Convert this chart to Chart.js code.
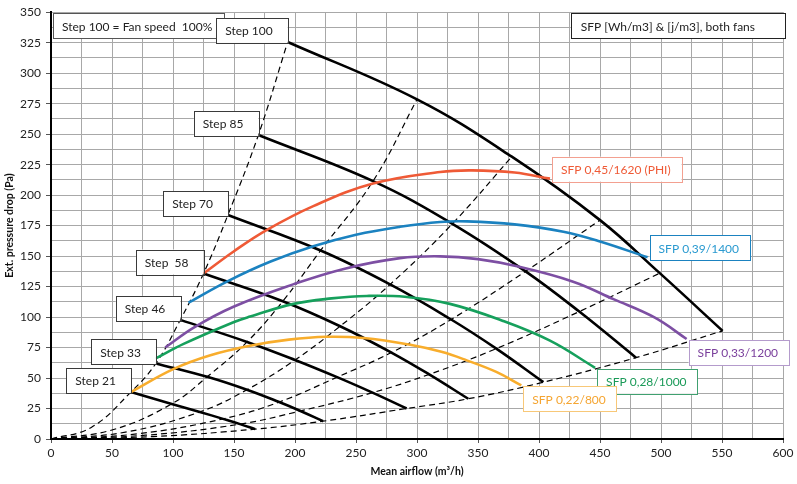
<!DOCTYPE html>
<html>
<head>
<meta charset="utf-8">
<script src="https://cdn.jsdelivr.net/npm/chart.js@4.4.1/dist/chart.umd.min.js"></script>
<style>
  html, body { margin: 0; padding: 0; background: #fff; }
  #wrap { width: 797px; height: 484px; }
</style>
</head>
<body>
<div id="wrap"><canvas id="fanChart"></canvas></div>
<script>
// fan curves per speed step, [airflow m3/h, pressure Pa]
// point i of every step lies on system curve i (the dashed lines)
const step21  = [[65.5, 38.5], [99, 28.8], [122, 22.2], [141, 16.5], [155, 12.2], [167.4, 8.1]];
const step33  = [[86, 62], [128, 51], [160.6, 40.4], [187, 30.3], [204.5, 23], [223, 14.6]];
const step46  = [[106, 97.7], [160.7, 79.6], [200, 64.8], [234.5, 50.7], [263.5, 38], [291.5, 25]];
const step58  = [[125, 135.7], [190, 113], [237, 92.5], [279, 70.9], [310, 53], [342, 33]];
const step70  = [[145, 183.7], [221, 154.6], [278, 126.8], [328, 98], [365, 74.1], [403.6, 46.6]];
const step85  = [[170, 249.3], [264, 211.5], [329, 176.5], [389, 137.5], [433, 104.5], [479.5, 66.7]];
const step100 = [[194, 325.6], [300, 278.5], [377.7, 231.5], [450, 179.5], [499, 136], [550.5, 88.7]];
const stepCurves = [step21, step33, step46, step58, step70, step85, step100];
const stepNames = ['Step 21', 'Step 33', 'Step 46', 'Step  58', 'Step 70', 'Step 85', 'Step 100'];

// first part of each system curve, from the origin up to the Step 21 curve
const systemHeads = [
  [[0, 0], [33, 9.5]],
  [[0, 0], [50, 7.4]],
  [[0, 0], [61, 5.6]],
  [[0, 0], [70.5, 4.2]],
  [[0, 0], [77.5, 3.1]],
  [[0, 0], [84, 2]]
];

// SFP iso-lines
const sfp045 = [[125, 135.7], [150, 154], [177, 171.5], [215, 191], [264, 209.5], [319, 219], [345, 220.3], [380, 218.5], [409, 213.5]];
const sfp039 = [[112.7, 111.8], [145, 129.5], [180, 145.5], [215, 158], [250, 167.5], [286, 174], [319, 178], [341, 178.5], [380, 176], [420, 170], [450, 162], [489, 149]];
const sfp033 = [[93.6, 75], [117, 91.4], [149.6, 108.5], [199, 127], [240, 139.5], [286, 148.3], [319, 149.8], [350, 147.5], [382, 141.6], [428, 129], [461, 114.7], [495, 99.5], [521, 82]];
const sfp028 = [[85.5, 65.9], [108.7, 78], [149.6, 95.8], [163.2, 100.4], [198.8, 110.8], [230, 115.3], [258.9, 117.3], [290, 116.6], [327, 110.8], [370, 97], [409, 80.6], [446, 58.4]];
const sfp022 = [[65.5, 38.5], [100.2, 57.3], [130, 68.5], [163.2, 76.5], [195, 81.5], [226, 83.8], [256, 82.8], [294.4, 77.3], [320, 71.5], [340.8, 64.5], [365, 55], [385.5, 44]];
const sfpCurves = [sfp045, sfp039, sfp033, sfp028, sfp022];
const sfpNames = ['SFP 0,45/1620 (PHI)', 'SFP 0,39/1400', 'SFP 0,33/1200', 'SFP 0,28/1000', 'SFP 0,22/800'];

const xTickLabels = [0, 50, 100, 150, 200, 250, 300, 350, 400, 450, 500, 550, 600];
const yTickLabels = [0, 25, 50, 75, 100, 125, 150, 175, 200, 225, 250, 275, 300, 325, 350];

// styles
const sfpStyle = [
  { line: '#ef5a36', text: '#ef5a36', box: '#f3a090', above: true },
  { line: '#1b82c0', text: '#2a9ad0', box: '#1b82c0', above: true },
  { line: '#7d4fa3', text: '#7a3f9c', box: '#b49bcc', above: false },
  { line: '#16a05c', text: '#1a9a58', box: '#40a070', above: false },
  { line: '#f8ad2c', text: '#f5a531', box: '#f8c878', above: false }
];
const FONT = 'Lato, "Open Sans", sans-serif';

const toXY = pts => pts.map(p => ({ x: p[0], y: p[1] }));

const datasets = [];

sfpCurves.forEach((c, i) => {
  datasets.push({
    data: toXY(c),
    borderColor: sfpStyle[i].line,
    borderWidth: 2.6,
    order: 1
  });
});

stepCurves.forEach(c => {
  datasets.push({
    data: toXY(c),
    borderColor: '#000',
    borderWidth: 2.6,
    order: 2
  });
});

// dashed system curves built from the step curves
systemHeads.forEach((head, i) => {
  const pts = head.concat(stepCurves.map(c => c[i]));
  datasets.push({
    data: toXY(pts),
    borderColor: '#000',
    borderWidth: 1.2,
    borderDash: [6, 4],
    order: 3
  });
});

function drawBox(ctx, text, x, y, w, h, border, color, padL) {
  ctx.fillStyle = '#fff';
  ctx.fillRect(x, y, w, h);
  ctx.strokeStyle = border;
  ctx.lineWidth = 1;
  ctx.strokeRect(Math.round(x) + 0.5, Math.round(y) + 0.5, Math.round(w), Math.round(h));
  ctx.fillStyle = color;
  ctx.textBaseline = 'middle';
  ctx.textAlign = 'left';
  ctx.fillText(text, x + (padL || 9), y + h / 2 + 1);
}

const labelPlugin = {
  id: 'labelBoxes',
  afterDraw(chart) {
    const ctx = chart.ctx;
    const xs = chart.scales.x, ys = chart.scales.y;
    const area = chart.chartArea;
    ctx.save();
    ctx.font = '12px ' + FONT;

    // info boxes
    let t = 'Step 100 = Fan speed  100%';
    let w = ctx.measureText(t).width + 21;
    drawBox(ctx, t, area.left + 2, area.top + 1, w, 25, '#555', '#222', 9);
    t = 'SFP [Wh/m3] & [j/m3], both fans';
    w = ctx.measureText(t).width + 40;
    drawBox(ctx, t, area.right + 2 - w, area.top + 1, w, 25, '#222', '#222', 10);

    // step labels: bottom-right corner at the start of each curve
    stepCurves.forEach((c, i) => {
      const px = xs.getPixelForValue(c[0][0]);
      const py = ys.getPixelForValue(c[0][1]);
      const w = ctx.measureText(stepNames[i]).width + 24;
      drawBox(ctx, stepNames[i], px - w, py + 1 - 25, w, 25, '#3a3a3a', '#222');
    });

    // SFP labels next to the end of each curve
    sfpCurves.forEach((c, i) => {
      const last = c[c.length - 1];
      const px = xs.getPixelForValue(last[0]);
      const py = ys.getPixelForValue(last[1]);
      const st = sfpStyle[i];
      const w = ctx.measureText(sfpNames[i]).width + 20;
      const top = st.above ? py + 3 - 25 : py + 1;
      drawBox(ctx, sfpNames[i], px + 2, top, w, 25, st.box, st.text);
    });

    // axis titles
    ctx.fillStyle = '#111';
    ctx.font = 'bold 10.5px ' + FONT;
    ctx.textAlign = 'center';
    ctx.textBaseline = 'middle';
    ctx.fillText('Mean airflow (m³/h)', (area.left + area.right) / 2, 472);
    ctx.translate(10, (area.top + area.bottom) / 2);
    ctx.rotate(-Math.PI / 2);
    ctx.fillText('Ext. pressure drop (Pa)', 0, 0);
    ctx.restore();
  }
};

new Chart(document.getElementById('fanChart'), {
  type: 'line',
  data: { datasets: datasets },
  options: {
    responsive: true,
    maintainAspectRatio: false,
    animation: false,
    layout: { padding: { top: 9, right: 14, left: 0, bottom: 0 } },
    elements: {
      point: { radius: 0 },
      line: { tension: 0.4, fill: false }
    },
    plugins: {
      legend: { display: false },
      tooltip: { enabled: false }
    },
    scales: {
      x: {
        type: 'linear',
        min: 0,
        max: 600,
        afterFit: s => { s.height = 45; },
        border: { color: '#000', width: 2 },
        grid: {
          color: '#a8a8a8',
          lineWidth: 1,
          tickLength: 4,
          tickColor: c => xTickLabels.includes(c.tick.value) ? '#555' : 'rgba(0,0,0,0)'
        },
        ticks: {
          stepSize: 25,
          autoSkip: false,
          maxRotation: 0,
          padding: 3,
          color: '#222',
          font: { family: FONT, size: 12 },
          callback: v => xTickLabels.includes(v) ? String(v) : ''
        }
      },
      y: {
        type: 'linear',
        min: 0,
        max: 350,
        afterFit: s => { s.width = 51; },
        border: { color: '#000', width: 2 },
        grid: {
          color: '#a8a8a8',
          lineWidth: 1,
          tickLength: 5,
          tickColor: c => yTickLabels.includes(c.tick.value) ? '#555' : 'rgba(0,0,0,0)'
        },
        ticks: {
          stepSize: 12.5,
          autoSkip: false,
          padding: 5,
          color: '#222',
          font: { family: FONT, size: 12 },
          callback: v => yTickLabels.includes(v) ? String(v) : ''
        }
      }
    }
  },
  plugins: [labelPlugin]
});
</script>
</body>
</html>
